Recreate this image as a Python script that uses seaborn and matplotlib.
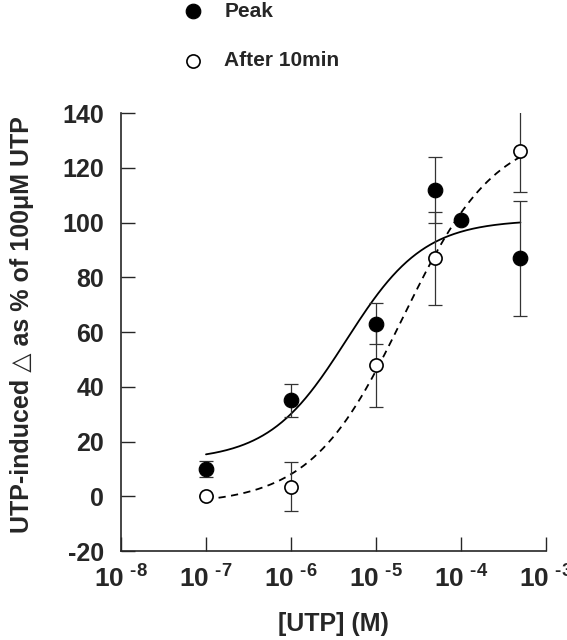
import matplotlib
matplotlib.use("Agg")
import matplotlib.pyplot as plt
import matplotlib.ticker as mticker
import numpy as np
import pandas as pd
import seaborn as sns

# UTP concentrations (M) and responses (% of 100 uM UTP)
peak_conc = [1e-7, 1e-6, 1e-5, 5e-5, 1e-4, 5e-4]
peak_mean = [10, 35, 63, 112, 101, 87]
peak_err = [3, 6, 7.5, 12, 0, 21]

late_conc = [1e-7, 1e-6, 1e-5, 5e-5, 5e-4]
late_mean = [0, 3.5, 48, 87, 126]
late_err = [0, 9, 15.5, 17, 15]

# fitted logistic curves: bottom, top, logEC50, hill
peak_fit = (13, 101, -5.35, 0.95)
late_fit = (-3, 134, -4.68, 0.8)

x_ticks = [1e-8, 1e-7, 1e-6, 1e-5, 1e-4, 1e-3]
y_ticks = [-20, 0, 20, 40, 60, 80, 100, 120, 140]


def logistic(x, bottom, top, logec, hill):
    return bottom + (top - bottom) / (1 + 10 ** (hill * (logec - np.log10(x))))


sns.set_style("ticks")
plt.rcParams["font.family"] = ["Liberation Sans", "DejaVu Sans"]
plt.rcParams["font.weight"] = "bold"
plt.rcParams["axes.unicode_minus"] = False
plt.rcParams["mathtext.fontset"] = "custom"
plt.rcParams["mathtext.rm"] = "Liberation Sans:bold"
plt.rcParams["mathtext.bf"] = "Liberation Sans:bold"

fig = plt.figure(figsize=(5.67, 6.4), dpi=100)
ax = fig.add_axes([0.2134, 0.139, 0.7496, 0.6844])

xs = np.logspace(-7, np.log10(5e-4), 200)
curves = pd.DataFrame({
    "x": np.concatenate([xs, xs]),
    "y": np.concatenate([logistic(xs, *peak_fit), logistic(xs, *late_fit)]),
    "fit": ["peak"] * len(xs) + ["late"] * len(xs),
})
sns.lineplot(data=curves, x="x", y="y", style="fit", color="black",
             dashes={"peak": "", "late": (4, 3)}, linewidth=1.3,
             legend=False, ax=ax)

ax.errorbar(late_conc, late_mean, yerr=late_err, fmt="none", ecolor="#333333",
            elinewidth=0.9, capsize=5, capthick=0.9)
ax.errorbar(peak_conc, peak_mean, yerr=peak_err, fmt="none", ecolor="#333333",
            elinewidth=0.9, capsize=5, capthick=0.9)

sns.scatterplot(x=late_conc, y=late_mean, marker="o", s=90, color="white",
                edgecolor="black", linewidth=1.2, zorder=4, label="After 10min", ax=ax)
sns.scatterplot(x=peak_conc, y=peak_mean, marker="o", s=110, color="black",
                edgecolor="black", zorder=5, label="Peak", ax=ax)

ax.set_xscale("log")
ax.set_xlim(1e-8, 1e-3)
ax.set_ylim(-20, 140)
ax.set_xticks(x_ticks)
ax.xaxis.set_minor_locator(mticker.NullLocator())
ax.xaxis.set_major_formatter(mticker.FuncFormatter(
    lambda v, p: r"$\mathregular{10^{\ \text{-}%d}}$" % abs(round(np.log10(v)))))
ax.set_yticks(y_ticks)

ax.tick_params(direction="in", length=10, width=1, labelsize=18, pad=12)
ax.tick_params(axis="x", pad=10, labelsize=19)
for lab in ax.get_yticklabels():
    lab.set_fontweight("bold")
sns.despine(ax=ax)
for s in ("left", "bottom"):
    ax.spines[s].set_linewidth(1.2)

ax.set_xlabel("[UTP] (M)", fontsize=18, fontweight="bold", labelpad=14)
ax.set_ylabel("UTP-induced \u25b3 as % of 100\u03bcM UTP", fontsize=18,
              fontweight="bold")
ax.yaxis.set_label_coords(-0.204, 0.518)

handles, labels = ax.get_legend_handles_labels()
order = [labels.index("Peak"), labels.index("After 10min")]
ax.legend([handles[i] for i in order], [labels[i] for i in order],
          loc="upper left", frameon=False, fontsize=15, labelspacing=1.45,
          handletextpad=0.5, borderaxespad=0)
leg = ax.get_legend()
leg.set_bbox_to_anchor((0.289, 1.01), transform=fig.transFigure)

fig.savefig("out.png", dpi=100)
